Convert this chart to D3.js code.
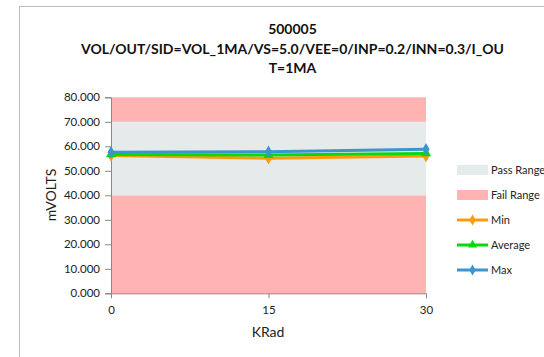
<!DOCTYPE html>
<html><head><meta charset="utf-8">
<script src="https://cdn.jsdelivr.net/npm/d3@7"></script>
<style>body{margin:0;background:#fff;} text{font-family:Lato, "Open Sans", sans-serif;}</style>
</head><body>
<svg id="c" width="544" height="357"></svg>
<script>
const titleLines = ["500005", "VOL/OUT/SID=VOL_1MA/VS=5.0/VEE=0/INP=0.2/INN=0.3/I_OU", "T=1MA"];
const categories = [0, 15, 30];
const minVals = [56.2, 55.1, 56.0];
const avgVals = [56.7, 56.4, 57.1];
const maxVals = [57.6, 57.8, 58.8];
const failLow = [0, 40];
const passBand = [40, 70];
const failHigh = [70, 80];
const yTicks = [0, 10, 20, 30, 40, 50, 60, 70, 80];
const legendNames = ["Pass Range", "Fail Range", "Min", "Average", "Max"];

const svg = d3.select("#c");
// outer chart border
svg.append("rect").attr("x", 19.5).attr("y", 6.5).attr("width", 600).attr("height", 400)
  .attr("fill", "#fff").attr("stroke", "#bdbdbd").attr("stroke-width", 1);

const x = d3.scalePoint().domain(categories).range([111, 426]);
const y = d3.scaleLinear().domain([0, 80]).range([293.3, 97.3]);

const bands = [[failLow, "#ffb3b3"], [passBand, "#e5eaea"], [failHigh, "#ffb3b3"]];
svg.selectAll("rect.band").data(bands).enter().append("rect")
  .attr("x", 111).attr("width", 315)
  .attr("y", d => y(d[0][1])).attr("height", d => y(d[0][0]) - y(d[0][1]))
  .attr("fill", d => d[1]);

// axes
const yAxis = d3.axisLeft(y).tickValues(yTicks).tickSize(6).tickPadding(5).tickFormat(d3.format(".3f"));
const gy = svg.append("g").attr("transform", "translate(111,0)").call(yAxis);
gy.select(".domain").attr("stroke", "#888");
gy.selectAll(".tick line").attr("stroke", "#888");
gy.selectAll(".tick text").attr("font-size", 11.5).attr("fill", "#222").attr("font-family", "Lato, sans-serif");

const xAxis = d3.axisBottom(x).tickSize(5).tickPadding(8);
const gx = svg.append("g").attr("transform", "translate(0,293.3)").call(xAxis);
gx.select(".domain").attr("stroke", "#888").attr("d", "M111,0.5H426");
gx.selectAll(".tick line").attr("stroke", "#888");
gx.selectAll(".tick text").attr("font-size", 11.5).attr("fill", "#222").attr("font-family", "Lato, sans-serif");

// titles
const tY = [34, 54, 73];
svg.selectAll("text.title").data(titleLines).enter().append("text")
  .attr("x", 292.5).attr("y", (d, i) => tY[i]).attr("text-anchor", "middle")
  .attr("font-weight", "bold").attr("font-size", 14).attr("fill", "#111").text(d => d);

svg.append("text").attr("transform", "translate(56,195) rotate(-90)").attr("text-anchor", "middle")
  .attr("font-size", 14).attr("fill", "#222").text("mVOLTS");
svg.append("text").attr("x", 268).attr("y", 337).attr("text-anchor", "middle")
  .attr("font-size", 14).attr("fill", "#222").text("KRad");

// series
const series = [
  {name: "Min", vals: minVals, color: "#ff9a0a", sym: d3.symbolDiamond},
  {name: "Average", vals: avgVals, color: "#0ad80a", sym: d3.symbolTriangle},
  {name: "Max", vals: maxVals, color: "#3d95cf", sym: d3.symbolDiamond}
];
const line = d3.line().x((d, i) => x(categories[i])).y(d => y(d));
series.forEach(s => {
  svg.append("path").datum(s.vals).attr("d", line).attr("fill", "none")
    .attr("stroke", s.color).attr("stroke-width", 3);
  svg.selectAll(null).data(s.vals).enter().append("path")
    .attr("d", d3.symbol().type(s.sym).size(45))
    .attr("transform", (d, i) => `translate(${x(categories[i])},${y(d)})`)
    .attr("fill", s.color);
});

// legend
const lg = svg.append("g");
legendNames.forEach((n, i) => {
  const cy = 170 + i * 25;
  if (i < 2) {
    lg.append("rect").attr("x", 457).attr("y", cy - 5).attr("width", 31).attr("height", 10)
      .attr("fill", i === 0 ? "#e5eaea" : "#ffb3b3");
  } else {
    const s = series[i - 2];
    lg.append("line").attr("x1", 457).attr("x2", 488).attr("y1", cy).attr("y2", cy)
      .attr("stroke", s.color).attr("stroke-width", 3);
    lg.append("path").attr("d", d3.symbol().type(s.sym).size(35))
      .attr("transform", `translate(472.5,${cy})`).attr("fill", s.color);
  }
  lg.append("text").attr("x", 491).attr("y", cy + 4).attr("font-size", 11).attr("fill", "#222").text(n);
});
</script>
</body></html>
